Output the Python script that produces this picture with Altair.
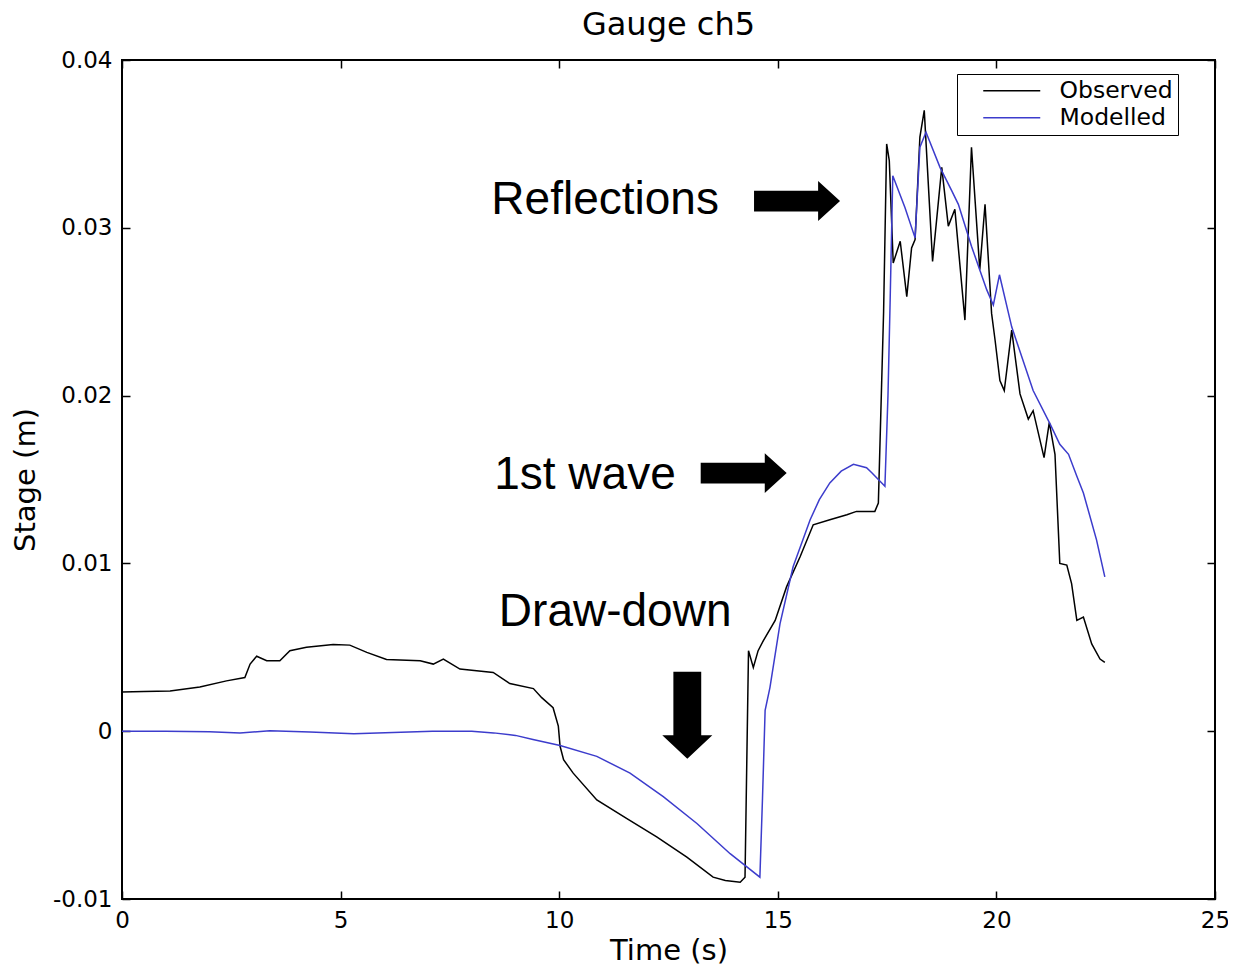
import altair as alt
import pandas as pd

# ---------------- data ----------------
t_obs = [0.0, 0.5, 1.1, 1.78, 2.39, 2.81, 2.93, 3.08, 3.31, 3.61,
         3.84, 4.22, 4.83, 5.21, 5.6, 6.05, 6.82, 7.12, 7.35, 7.73,
         8.49, 8.87, 9.41, 9.6, 9.86, 9.98, 10.02, 10.1, 10.32, 10.86,
         11.54, 12.23, 12.92, 13.52, 13.8, 14.14, 14.25, 14.33, 14.44, 14.55,
         14.67, 14.94, 15.2, 15.51, 15.81, 16.19, 16.58, 16.8, 17.22, 17.3,
         17.42, 17.49, 17.55, 17.64, 17.8, 17.95, 18.06, 18.14, 18.25, 18.35,
         18.54, 18.75, 18.9, 19.05, 19.28, 19.43, 19.62, 19.74, 19.89, 19.97,
         20.08, 20.18, 20.35, 20.54, 20.73, 20.84, 21.09, 21.21, 21.34, 21.45,
         21.61, 21.72, 21.84, 21.99, 22.18, 22.37, 22.48]
v_obs = [0.00234, 0.00236, 0.0024, 0.00264, 0.0030, 0.0032, 0.0040, 0.00447, 0.0042, 0.0042,
         0.0048, 0.0050, 0.00517, 0.00513, 0.0047, 0.00427, 0.0042, 0.0040, 0.0043, 0.0037,
         0.0035, 0.00284, 0.00254, 0.0020, 0.0014, 0.0003, -0.0009, -0.0017, -0.0025, -0.0041,
         -0.0052, -0.0063, -0.0075, -0.0087, -0.0089, -0.0090, -0.0087, 0.0048, 0.0038, 0.0048,
         0.0054, 0.0066, 0.0086, 0.0104, 0.0123, 0.0126, 0.0129, 0.0131, 0.0131, 0.0136,
         0.0250, 0.0350, 0.0340, 0.0279, 0.0292, 0.0259, 0.0288, 0.0293, 0.0354, 0.0370,
         0.0280, 0.0336, 0.0301, 0.0311, 0.0245, 0.0348, 0.0275, 0.0314, 0.0249, 0.0233,
         0.0209, 0.0203, 0.0239, 0.0201, 0.0186, 0.0191, 0.0163, 0.0184, 0.0165, 0.0100,
         0.0099, 0.0088, 0.0066, 0.0068, 0.0052, 0.0043, 0.0041]

t_mod = [0.0, 1.0, 2.0, 2.7, 3.38, 4.3, 5.3, 6.2, 7.1, 8.0,
         8.5, 9.0, 9.4, 10.02, 10.86, 11.62, 12.38, 13.15, 13.91, 14.59,
         14.65, 14.71, 14.82, 15.05, 15.35, 15.74, 15.95, 16.19, 16.45, 16.73,
         17.03, 17.15, 17.3, 17.45, 17.52, 17.57, 17.63, 17.91, 18.14, 18.25,
         18.39, 18.71, 18.98, 19.13, 19.43, 19.78, 19.93, 20.07, 20.35, 20.84,
         21.23, 21.45, 21.65, 21.84, 21.99, 22.29, 22.48]
v_mod = [0.0, 0.0, -0.00003, -0.0001, 0.00002, -0.00005, -0.00015, -0.00008, 0.0, 0.0,
         -0.0001, -0.00025, -0.0005, -0.00085, -0.0015, -0.0025, -0.0039, -0.0055, -0.0073, -0.0087,
         -0.004, 0.00125, 0.0026, 0.0064, 0.0098, 0.0126, 0.0138, 0.0148, 0.0155, 0.0159,
         0.0157, 0.0154, 0.0150, 0.0146, 0.020, 0.0257, 0.0331, 0.0312, 0.0294, 0.0348,
         0.0357, 0.0336, 0.0322, 0.0314, 0.0289, 0.0263, 0.0254, 0.0272, 0.0241, 0.0203,
         0.0183, 0.0171, 0.0165, 0.0152, 0.0142, 0.0114, 0.0092]

series_names = ["Observed", "Modelled"]
series_colors = ["#000000", "#3c3ccc"]

x_ticks = [0, 5, 10, 15, 20, 25]
y_ticks = [-0.01, 0, 0.01, 0.02, 0.03, 0.04]

ann_text = ["Reflections", "1st wave", "Draw-down"]
ann_t = [11.05, 10.59, 11.28]
ann_v = [0.03164, 0.01526, 0.00709]

arrow_right_t = [15.44, 14.22]
arrow_right_v = [0.03159, 0.01538]
arrow_down_t = [12.93]
arrow_down_v = [0.00095]

# ---------------- tables ----------------
rows = []
for i, (t, v) in enumerate(zip(t_obs, v_obs)):
    rows.append({"t": t, "v": v, "series": series_names[0], "i": i})
for i, (t, v) in enumerate(zip(t_mod, v_mod)):
    rows.append({"t": t, "v": v, "series": series_names[1], "i": i})
lines_df = pd.DataFrame(rows)
ann_df = pd.DataFrame({"t": ann_t, "v": ann_v, "label": ann_text})
ar_df = pd.DataFrame({"t": arrow_right_t, "v": arrow_right_v})
ad_df = pd.DataFrame({"t": arrow_down_t, "v": arrow_down_v})

FONT = "DejaVu Sans"
xscale = alt.Scale(domain=[0, 25], nice=False, zero=False)
yscale = alt.Scale(domain=[-0.01, 0.04], nice=False, zero=False)

ylabel_expr = "datum.value == 0 ? '0' : (datum.value < 0 ? '-' : '') + format(abs(datum.value), '.2f')"

common_axis = dict(domain=False, grid=False, ticks=True, tickSize=8, offset=-8,
                   tickColor="black", tickWidth=1.5, labelColor="black",
                   labelFont=FONT, labelFontSize=23, titleFont=FONT,
                   titleFontSize=29, titleFontWeight="normal", titleColor="black")

x_bottom = alt.Axis(orient="bottom", values=x_ticks, format="d", labelFlush=False,
                    labelPadding=10, titlePadding=4, title="Time (s)", **common_axis)
y_left = alt.Axis(orient="left", values=y_ticks, labelExpr=ylabel_expr,
                  labelPadding=10, titlePadding=12, title="Stage (m)", **common_axis)
x_top = alt.Axis(orient="top", values=x_ticks, labels=False, title=None, **common_axis)
y_right = alt.Axis(orient="right", values=y_ticks, labels=False, title=None, **common_axis)

legend_line = "M-2.85,0L2.85,0"

lines = alt.Chart(lines_df).mark_line(strokeWidth=1.5).encode(
    x=alt.X("t:Q", scale=xscale, axis=x_bottom),
    y=alt.Y("v:Q", scale=yscale, axis=y_left),
    color=alt.Color("series:N",
                    scale=alt.Scale(domain=series_names, range=series_colors),
                    legend=alt.Legend(orient="none", legendX=835, legendY=14, title=None,
                                      symbolType=legend_line, symbolSize=400,
                                      symbolStrokeWidth=1.5, labelFont=FONT,
                                      labelFontSize=23.5, labelColor="black",
                                      labelOffset=36, strokeColor="black",
                                      fillColor="white", padding=5, rowPadding=2,
                                      symbolOffset=38)),
    order=alt.Order("i:Q"),
)

texts = alt.Chart(ann_df).mark_text(font="Liberation Sans", fontSize=46, color="black",
                                    align="center", baseline="middle").encode(
    x=alt.X("t:Q", scale=xscale, axis=x_top),
    y=alt.Y("v:Q", scale=yscale, axis=y_right),
    text="label:N",
)

right_path = "M-1,-0.244L0.49,-0.244L0.49,-0.465L1,0L0.49,0.465L0.49,0.244L-1,0.244Z"
down_path = "M-0.32,-1L0.32,-1L0.32,0.46L0.575,0.46L0,1L-0.575,0.46L-0.32,0.46Z"

arrows_r = alt.Chart(ar_df).mark_point(shape=right_path, size=7396, filled=True,
                                       color="black", opacity=1, strokeWidth=0).encode(
    x=alt.X("t:Q", scale=xscale, axis=None),
    y=alt.Y("v:Q", scale=yscale, axis=None),
)
arrows_d = alt.Chart(ad_df).mark_point(shape=down_path, size=7569, filled=True,
                                       color="black", opacity=1, strokeWidth=0).encode(
    x=alt.X("t:Q", scale=xscale, axis=None),
    y=alt.Y("v:Q", scale=yscale, axis=None),
)

chart = alt.layer(lines, texts, arrows_r, arrows_d).resolve_axis(
    x="independent", y="independent"
).properties(
    width=1093, height=839,
    title=alt.TitleParams("Gauge ch5", font=FONT, fontSize=32, fontWeight="normal",
                          color="black", anchor="middle", offset=7),
    padding={"left": 114, "top": 52, "right": 13, "bottom": 66},
    autosize=alt.AutoSizeParams(type="none"),
    background="white",
).configure_view(stroke="black", strokeWidth=2)

chart.save("out.html", embed_options={"renderer": "svg", "actions": False})
